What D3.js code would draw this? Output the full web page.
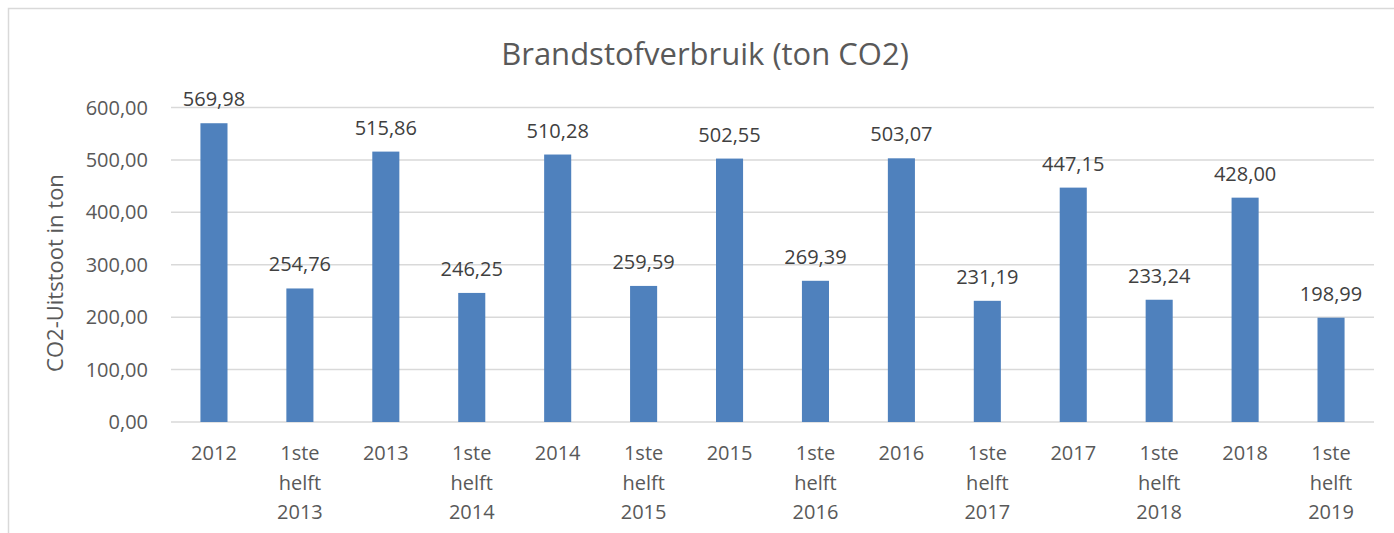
<!DOCTYPE html>
<html>
<head>
<meta charset="utf-8">
<script src="https://cdnjs.cloudflare.com/ajax/libs/d3/7.8.5/d3.min.js"></script>
<style>
  body { margin: 0; background: #fff; }
  text { font-family: 'Open Sans', 'Liberation Sans', sans-serif; fill: #595959; }
</style>
</head>
<body>
<script>
const categories = [
  ['2012'], ['1ste', 'helft', '2013'], ['2013'], ['1ste', 'helft', '2014'],
  ['2014'], ['1ste', 'helft', '2015'], ['2015'], ['1ste', 'helft', '2016'],
  ['2016'], ['1ste', 'helft', '2017'], ['2017'], ['1ste', 'helft', '2018'],
  ['2018'], ['1ste', 'helft', '2019']
];
const values = [569.98, 254.76, 515.86, 246.25, 510.28, 259.59, 502.55, 269.39, 503.07, 231.19, 447.15, 233.24, 428.00, 198.99];
const yTicks = [0, 100, 200, 300, 400, 500, 600];

const W = 1394, H = 533;
const plot = { left: 171, right: 1374, top: 107.5, bottom: 422 };

const fmt = v => d3.format('.2f')(v).replace('.', ',');

const svg = d3.select('body').append('svg')
  .attr('width', W)
  .attr('height', H);

// chart frame
svg.append('rect')
  .attr('x', 8.5).attr('y', 8.5)
  .attr('width', W + 20).attr('height', H + 20)
  .attr('fill', 'none')
  .attr('stroke', '#d9d9d9')
  .attr('stroke-width', 1.5);

const x = d3.scaleBand()
  .domain(d3.range(categories.length))
  .range([plot.left, plot.right])
  .paddingInner(0.685)
  .paddingOuter(0.685 / 2);

const y = d3.scaleLinear()
  .domain([0, 600])
  .range([plot.bottom, plot.top]);

// gridlines
svg.append('g')
  .selectAll('line')
  .data(yTicks)
  .enter()
  .append('line')
  .attr('x1', plot.left)
  .attr('x2', plot.right)
  .attr('y1', d => y(d))
  .attr('y2', d => y(d))
  .attr('stroke', '#d9d9d9')
  .attr('stroke-width', 1.5);

// y tick labels
svg.append('g')
  .selectAll('text')
  .data(yTicks)
  .enter()
  .append('text')
  .attr('x', plot.left - 23)
  .attr('y', d => y(d))
  .attr('dy', '0.35em')
  .attr('text-anchor', 'end')
  .attr('font-size', 20)
  .text(d => fmt(d));

// bars
svg.append('g')
  .selectAll('rect')
  .data(values)
  .enter()
  .append('rect')
  .attr('x', (d, i) => x(i))
  .attr('width', x.bandwidth())
  .attr('y', d => y(d))
  .attr('height', d => y(0) - y(d))
  .attr('fill', '#4f81bd');

// value labels
svg.append('g')
  .selectAll('text')
  .data(values)
  .enter()
  .append('text')
  .attr('x', (d, i) => x(i) + x.bandwidth() / 2)
  .attr('y', d => y(d) - 17)
  .attr('text-anchor', 'middle')
  .attr('font-size', 20)
  .style('fill', '#404040')
  .text(d => fmt(d));

// category labels
const cat = svg.append('g')
  .selectAll('text')
  .data(categories)
  .enter()
  .append('text')
  .attr('text-anchor', 'middle')
  .attr('font-size', 20)
  .attr('x', (d, i) => x(i) + x.bandwidth() / 2)
  .attr('y', 460);

cat.selectAll('tspan')
  .data(d => d)
  .enter()
  .append('tspan')
  .attr('x', function() { return d3.select(this.parentNode).attr('x'); })
  .attr('dy', (d, i) => i === 0 ? 0 : 29.5)
  .text(d => d);

// title
svg.append('text')
  .attr('x', 705)
  .attr('y', 65)
  .attr('text-anchor', 'middle')
  .attr('font-size', 31)
  .text('Brandstofverbruik (ton CO2)');

// y axis title
svg.append('text')
  .attr('transform', 'translate(63,' + 273 + ') rotate(-90)')
  .attr('text-anchor', 'middle')
  .attr('font-size', 22)
  .text('CO2-Uitstoot in ton');
</script>
</body>
</html>
